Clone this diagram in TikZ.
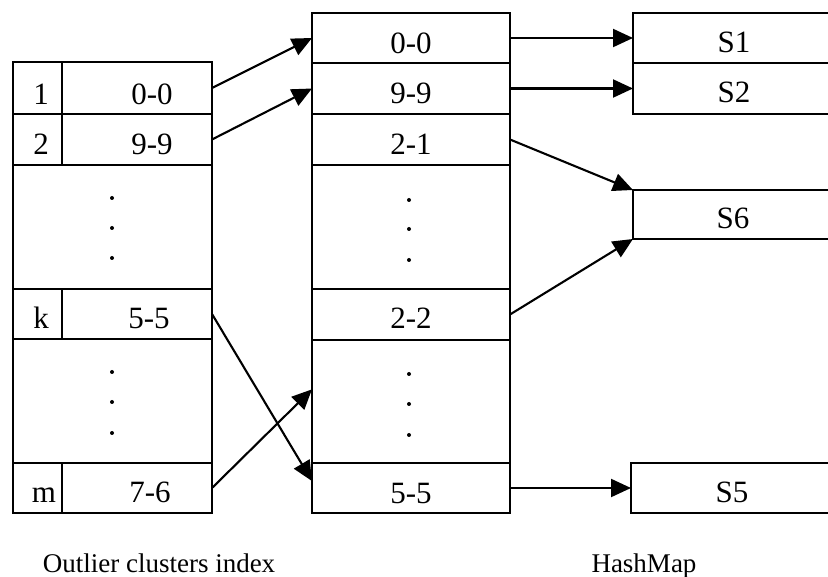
\documentclass[tikz,border=0pt]{standalone}
\usepackage{fontspec}
\setmainfont{Liberation Serif}
\usetikzlibrary{arrows.meta}

\begin{document}
\begin{tikzpicture}[x=1pt,y=-1pt,
  cell/.style={draw, rectangle, inner sep=0pt, outer sep=0pt, line width=1.7pt, anchor=north west},
  val/.style={anchor=base, inner sep=0pt, font=\fontsize{31}{33}\selectfont},
  caption/.style={anchor=base, inner sep=0pt, font=\fontsize{27}{29}\selectfont},
  link/.style={-{Triangle[length=20pt,width=18pt]}, line width=2.1pt},
  dot/.style={fill, circle, inner sep=0pt, minimum size=4pt}]
\useasboundingbox (0,0) rectangle (828,577);
\clip (0,0) rectangle (828,577);

% ---- outlier clusters index (left table) ----
\node[cell, minimum width=49pt,  minimum height=52pt]  (i1)  at (13,62)  {};
\node[cell, minimum width=150pt, minimum height=52pt]  (k1)  at (62,62)  {};
\node[cell, minimum width=49pt,  minimum height=51pt]  (i2)  at (13,114) {};
\node[cell, minimum width=150pt, minimum height=51pt]  (k2)  at (62,114) {};
\node[cell, minimum width=199pt, minimum height=124pt] (ld1) at (13,165) {};
\node[cell, minimum width=49pt,  minimum height=50pt]  (ik)  at (13,289) {};
\node[cell, minimum width=150pt, minimum height=50pt]  (kk)  at (62,289) {};
\node[cell, minimum width=199pt, minimum height=124pt] (ld2) at (13,339) {};
\node[cell, minimum width=49pt,  minimum height=50pt]  (im)  at (13,463) {};
\node[cell, minimum width=150pt, minimum height=50pt]  (km)  at (62,463) {};

\node[val] (ti1) at (41,105)  {1};
\node[val] (tk1) at (152,105) {0-0};
\node[val] (ti2) at (41,155)  {2};
\node[val] (tk2) at (152,155) {9-9};
\node[val] (tik) at (41,329)  {k};
\node[val] (tkk) at (149,329) {5-5};
\node[val] (tim) at (44,502)  {m};
\node[val] (tkm) at (150,502) {7-6};

\foreach \y in {198,228,258,372,402,433}
  \node[dot] at (112,\y) {};

% ---- hash map keys (middle table) ----
\node[cell, minimum width=198pt, minimum height=50pt]  (m00) at (312,13)  {};
\node[cell, minimum width=198pt, minimum height=51pt]  (m99) at (312,63)  {};
\node[cell, minimum width=198pt, minimum height=51pt]  (m21) at (312,114) {};
\node[cell, minimum width=198pt, minimum height=124pt] (md1) at (312,165) {};
\node[cell, minimum width=198pt, minimum height=51pt]  (m22) at (312,289) {};
\node[cell, minimum width=198pt, minimum height=123pt] (md2) at (312,340) {};
\node[cell, minimum width=198pt, minimum height=50pt]  (m55) at (312,463) {};

\draw[line width=2.9pt] (m21.south west) -- (m21.south east);
\draw[line width=2.1pt] (m22.north west) -- (m22.north east);
\draw[line width=2.9pt] (m22.south west) -- (m22.south east);

\node[val] (tm00) at (411,54)  {0-0};
\node[val] (tm99) at (411,104) {9-9};
\node[val] (tm21) at (411,155) {2-1};
\node[val] (tm22) at (411,329) {2-2};
\node[val] (tm55) at (411,503) {5-5};

\foreach \y in {200,229,260,374,404,435}
  \node[dot] at (409,\y) {};

% ---- hash map values (right column) ----
\node[cell, minimum width=210pt, minimum height=50pt] (s1) at (633,13)  {};
\node[cell, minimum width=210pt, minimum height=51pt] (s2) at (633,63)  {};
\node[cell, minimum width=210pt, minimum height=49pt] (s6) at (633,190) {};
\node[cell, minimum width=210pt, minimum height=50pt] (s5) at (631,463) {};

\node[val] (ts1) at (734,53)  {S1};
\node[val] (ts2) at (734,103) {S2};
\node[val] (ts6) at (733,229) {S6};
\node[val] (ts5) at (732,502) {S5};

% ---- pointers ----
\draw[link] (k1.east)  -- (m00.west);
\draw[link] (k2.east)  -- (m99.west);
\draw[link] (kk.east)  -- (m55.176);
\draw[link] (km.east)  -- (md2.173);
\draw[link] (m00.east) -- (s1.west);
\draw[link] (m99.east) -- (s2.west);
\draw[link] (m21.east) -- (s6.north west);
\draw[link] (m22.east) -- (s6.south west);
\draw[link] (m55.east) -- (s5.west);

% ---- captions ----
\node[caption] (cap1) at (159,572) {Outlier clusters index};
\node[caption] (cap2) at (644,572) {HashMap};
\end{tikzpicture}
\end{document}
